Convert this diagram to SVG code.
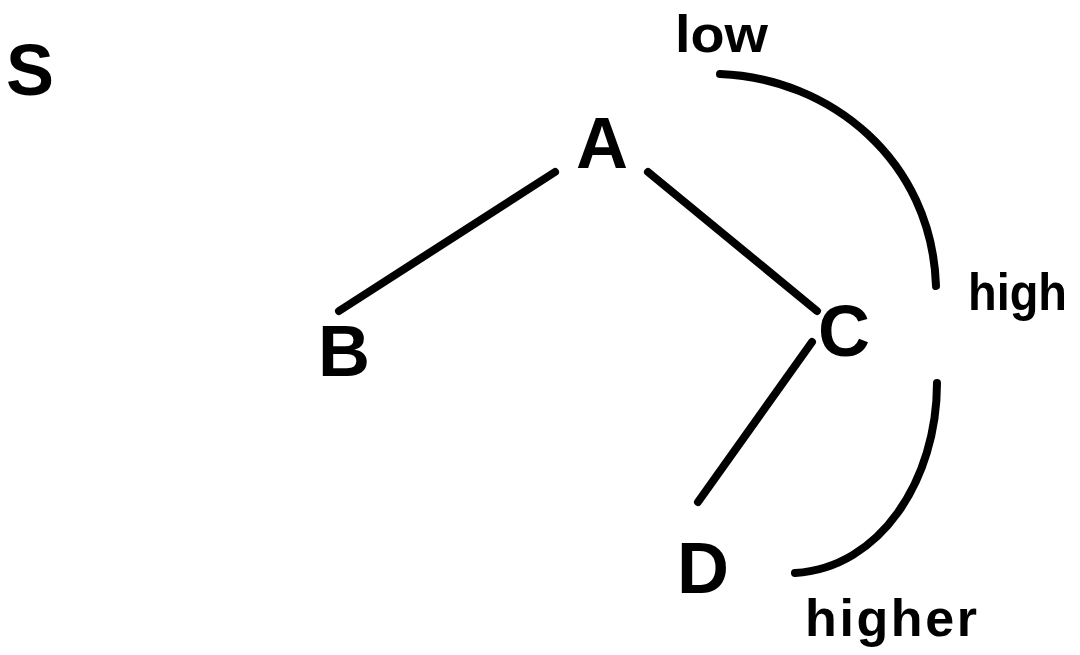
<svg xmlns="http://www.w3.org/2000/svg" width="1080" height="655" viewBox="0 0 1080 655">
<style>
.n{font-family:"Liberation Sans",Arial,sans-serif;font-weight:bold;font-size:72px;fill:#000;text-anchor:middle}
.l{font-family:"Liberation Sans",Arial,sans-serif;font-weight:bold;font-size:52px;fill:#000}
.e{stroke:#000;stroke-width:8;stroke-linecap:round;fill:none}
</style>
<rect width="1080" height="655" fill="#fff"/>
<g id="S"><text class="n" x="30" y="95" font-size="70">S</text></g>
<g id="A"><text class="n" x="602" y="168" font-size="75">A</text></g>
<g id="B"><text class="n" x="344" y="376" font-size="68">B</text></g>
<g id="C"><text class="n" x="844" y="356">C</text></g>
<g id="D"><text class="n" x="703" y="593">D</text></g>
<g id="connectors">
<line class="e" x1="555" y1="172" x2="339" y2="311"/>
<line class="e" x1="648" y1="172" x2="817" y2="311"/>
<line class="e" x1="812" y1="342" x2="698" y2="502"/>
<path class="e" d="M720,74 C830,78 932,160 936,286"/>
<path class="e" d="M937,383 C937,480 880,568 795,573"/>
</g>
<g id="labels">
<text class="l" x="675" y="52" font-size="56" textLength="93" lengthAdjust="spacingAndGlyphs">low</text>
<text class="l" x="968" y="310" font-size="50" textLength="99" lengthAdjust="spacingAndGlyphs">high</text>
<text class="l" x="805" y="636" font-size="50" textLength="172" lengthAdjust="spacing">higher</text>
</g>
</svg>
